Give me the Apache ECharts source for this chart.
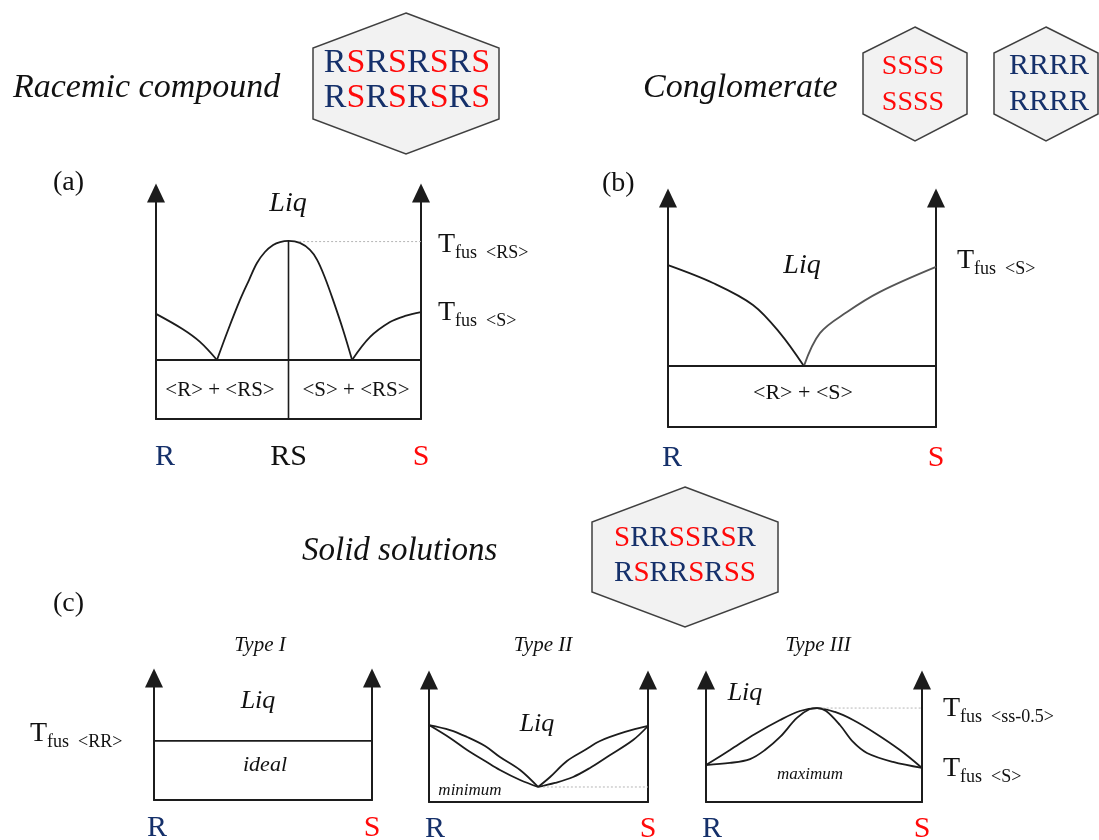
<!DOCTYPE html>
<html><head><meta charset="utf-8">
<script src="https://cdn.jsdelivr.net/npm/echarts@6/dist/echarts.min.js"></script>
<style>html,body{margin:0;padding:0;background:#fff}#c{width:1099px;height:840px}</style>
</head><body><div id="c"></div>
<script>
// ---------------- DATA (x = mole fraction of S, T = relative temperature 0..100) ----------------
const labelsA = ['R', 'RS', 'S'];          // panel (a) composition axis: 0, 0.5, 1
const labelsB = ['R', 'S'];                // other panels: 0, 1

// (a) racemic compound
const aLiqR  = [[0,46.5],[0.10,39.8],[0.166,34.1],[0.23,26.1]];
const aLiqRS = [[0.23,26.1],[0.272,39.4],[0.317,52.7],[0.351,61.5],[0.381,69.0],[0.411,73.9],[0.442,77.0],[0.468,78.3],[0.5,78.8],[0.543,77.9],[0.581,74.8],[0.608,70.4],[0.638,62.4],[0.668,52.7],[0.706,39.4],[0.74,26.1]];
const aLiqS  = [[0.74,26.1],[0.808,36.3],[0.883,42.9],[0.94,45.6],[1,47.3]];
const aEutecticT = 26.1;
const aTfusRS = 78.8;

// (b) conglomerate
const bLiqR = [[0,70.7],[0.168,62.9],[0.317,53.3],[0.418,41.0],[0.507,26.6]];
const bLiqS = [[0.507,26.6],[0.567,41.0],[0.668,50.2],[0.791,59.0],[1,69.9]];
const bEutecticT = 26.6;

// (c) solid solutions
const c1IdealT = 48.4;
const c2LiqLeft  = [[0,63.1],[0.096,59.0],[0.174,53.3],[0.256,45.9],[0.324,36.9],[0.416,26.2],[0.498,12.3]];
const c2SolLeft  = [[0,63.1],[0.096,52.5],[0.174,42.6],[0.256,33.6],[0.324,26.2],[0.416,18.0],[0.498,12.3]];
const c2LiqRight = [[0.498,12.3],[0.553,20.5],[0.630,33.6],[0.712,42.6],[0.781,50.0],[0.895,57.4],[1,62.3]];
const c2SolRight = [[0.498,12.3],[0.575,15.6],[0.658,20.5],[0.735,27.9],[0.813,36.9],[0.932,50.8],[1,62.3]];
const c2MinT = 12.3;
const c3Outer = [[0,30.3],[0.111,42.6],[0.227,55.7],[0.343,67.2],[0.435,74.6],[0.514,77.0],[0.597,73.8],[0.681,67.2],[0.782,56.6],[0.898,42.6],[1,27.9]];
const c3Inner = [[0,30.3],[0.111,32.0],[0.204,35.2],[0.273,42.6],[0.343,53.3],[0.421,68.9],[0.481,76.2],[0.514,77.0],[0.556,74.6],[0.620,63.1],[0.681,49.2],[0.745,40.2],[0.866,32.8],[1,27.9]];
const c3MaxT = 77.0;

// hexagon contents
const hexRacemic = ['RSRSRSRS', 'RSRSRSRS'];
const hexSS = ['SSSS', 'SSSS'];
const hexRR = ['RRRR', 'RRRR'];
const hexSolid = ['SRRSSRSR', 'RSRRSRSS'];

// ---------------- STYLE / LAYOUT ----------------
const NAVY = '#15306a', RED = '#ff0a0a', INK = '#1c1c1c';
const SERIF = '"Liberation Serif","Times New Roman",serif';
const panels = [
  {left:156, top:193, width:265, height:226, interval:0.5, labels:labelsA, margin:23, rPad:18},
  {left:668, top:198, width:268, height:229, interval:1, labels:labelsB, margin:16, rPad:8},
  {left:154, top:678, width:218, height:122, interval:1, labels:labelsB, margin:13, rPad:6},
  {left:429, top:680, width:219, height:122, interval:1, labels:labelsB, margin:12, rPad:12},
  {left:706, top:680, width:216, height:122, interval:1, labels:labelsB, margin:12, rPad:12}
];

const axisLineStyle = {color: INK, width: 2};
const grid = [], xAxis = [], yAxis = [];
panels.forEach((p, i) => {
  grid.push({left:p.left, top:p.top, width:p.width, height:p.height, containLabel:false, outerBoundsMode:'none'});
  xAxis.push({
    gridIndex:i, type:'value', min:0, max:1, interval:p.interval,
    axisLine:{show:true, onZero:false, lineStyle:axisLineStyle},
    axisTick:{show:false}, splitLine:{show:false},
    axisLabel:{
      margin:p.margin, fontFamily:SERIF, fontSize:30,
      formatter:(v) => { const n = p.labels[Math.round(v / p.interval)]; return n === 'R' ? '{r|R}' : n === 'S' ? '{s|S}' : '{k|' + n + '}'; },
      rich:{
        r:{color:NAVY, fontFamily:SERIF, fontSize:30, padding:[0,0,0,p.rPad]},
        s:{color:RED, fontFamily:SERIF, fontSize:30},
        k:{color:'#111', fontFamily:SERIF, fontSize:30}
      }
    }
  });
  ['left','right'].forEach(pos => yAxis.push({
    gridIndex:i, type:'value', min:0, max:100, position:pos,
    axisLine:{show:true, onZero:false, symbol:['none','triangle'], symbolSize:[18,19], lineStyle:axisLineStyle},
    axisTick:{show:false}, axisLabel:{show:false}, splitLine:{show:false}
  }));
});

function curve(i, data, o = {}) {
  return {type:'line', xAxisIndex:i, yAxisIndex:2 * i, data, showSymbol:false, silent:true,
    smooth:o.smooth === undefined ? 0.35 : o.smooth, animation:false,
    lineStyle:{color:o.color || INK, width:o.width || 1.8, type:o.type || 'solid'}};
}
function hline(i, T, x0, x1, o = {}) { return curve(i, [[x0, T], [x1, T]], Object.assign({smooth:false}, o)); }
const dotted = {color:'#b5b5b5', width:1, type:[2, 2]};

const series = [
  curve(0, aLiqR), curve(0, aLiqRS), curve(0, aLiqS),
  hline(0, aEutecticT, 0, 1, {width:2}),
  curve(0, [[0.5, 0], [0.5, aTfusRS]], {smooth:false, width:1.6}),
  hline(0, aTfusRS - 0.3, 0.54, 1, dotted),
  curve(1, bLiqR), curve(1, bLiqS, {color:'#555'}),
  hline(1, bEutecticT, 0, 1, {width:2}),
  hline(2, c1IdealT, 0, 1, {width:1.8}),
  curve(3, c2LiqLeft), curve(3, c2SolLeft), curve(3, c2LiqRight), curve(3, c2SolRight),
  hline(3, c2MinT, 0.52, 1, dotted),
  curve(4, c3Outer), curve(4, c3Inner),
  hline(4, c3MaxT, 0.54, 1, dotted)
];

// ---------------- ANNOTATIONS ----------------
function txt(x, base, text, size, o = {}) {
  return {type:'text', x, y:base - 0.34 * size, silent:true, z:100,
    style:{text, fill:o.color || '#111', font:(o.italic ? 'italic ' : '') + size + 'px ' + SERIF,
      textAlign:o.align || 'left', textVerticalAlign:'middle', verticalAlign:'middle'}};
}
function tfus(x, base, sub) {
  return [txt(x, base, 'T', 28), txt(x + 17, base + 5, 'fus', 18), txt(x + 48, base + 5, sub, 18)];
}
function hexagon(cx, top, bottom, halfW, sideTop, sideBot) {
  return {type:'polygon', silent:true, z:90,
    shape:{points:[[cx, top], [cx + halfW, sideTop], [cx + halfW, sideBot], [cx, bottom], [cx - halfW, sideBot], [cx - halfW, sideTop]]},
    style:{fill:'#f2f2f2', stroke:'#404040', lineWidth:1.5}};
}
function hexLine(cx, base, seq, size) {
  const font = size + 'px ' + SERIF;
  return {type:'text', x:cx, y:base - 0.34 * size, silent:true, z:100,
    style:{text:seq.split('').map(c => c === 'R' ? '{r|R}' : '{s|S}').join(''), font, textAlign:'center', textVerticalAlign:'middle', verticalAlign:'middle',
      rich:{r:{fill:NAVY, font}, s:{fill:RED, font}}}};
}

const graphic = [
  txt(13, 100, 'Racemic compound', 34, {italic:true}),
  hexagon(406, 13, 154, 93, 48, 119),
  hexLine(407, 75, hexRacemic[0], 34), hexLine(407, 110, hexRacemic[1], 34),
  txt(643, 100, 'Conglomerate', 34, {italic:true}),
  hexagon(915, 27, 141, 52, 53, 114),
  hexLine(913, 76, hexSS[0], 28), hexLine(913, 112, hexSS[1], 28),
  hexagon(1046, 27, 141, 52, 53, 114),
  hexLine(1049, 76, hexRR[0], 30), hexLine(1049, 112, hexRR[1], 30),
  txt(53, 192, '(a)', 28),
  txt(288, 213, 'Liq', 28, {italic:true, align:'center'}),
  ...tfus(438, 254, '<RS>'),
  ...tfus(438, 322, '<S>'),
  txt(220, 398, '<R> + <RS>', 21, {align:'center'}),
  txt(356, 398, '<S> + <RS>', 21, {align:'center'}),
  txt(602, 193, '(b)', 28),
  txt(802, 275, 'Liq', 28, {italic:true, align:'center'}),
  ...tfus(957, 270, '<S>'),
  txt(803, 401, '<R> + <S>', 22, {align:'center'}),
  txt(302, 563, 'Solid solutions', 33, {italic:true}),
  hexagon(685, 487, 627, 93, 522, 592),
  hexLine(685, 548, hexSolid[0], 29), hexLine(685, 583, hexSolid[1], 29),
  txt(53, 613, '(c)', 28),
  txt(260, 653, 'Type I', 21, {italic:true, align:'center'}),
  txt(543, 653, 'Type II', 21, {italic:true, align:'center'}),
  txt(818, 653, 'Type III', 21, {italic:true, align:'center'}),
  txt(258, 710, 'Liq', 26, {italic:true, align:'center'}),
  txt(265, 773, 'ideal', 22, {italic:true, align:'center'}),
  ...tfus(30, 743, '<RR>'),
  txt(537, 733, 'Liq', 26, {italic:true, align:'center'}),
  txt(470, 796, 'minimum', 17, {italic:true, align:'center'}),
  txt(745, 702, 'Liq', 26, {italic:true, align:'center'}),
  txt(810, 780, 'maximum', 17, {italic:true, align:'center'}),
  ...tfus(943, 718, '<ss-0.5>'),
  ...tfus(943, 778, '<S>')
];

const chart = echarts.init(document.getElementById('c'), null, {renderer:'canvas'});
chart.setOption({backgroundColor:'#fff', animation:false, grid, xAxis, yAxis, series, graphic});
</script></body></html>
